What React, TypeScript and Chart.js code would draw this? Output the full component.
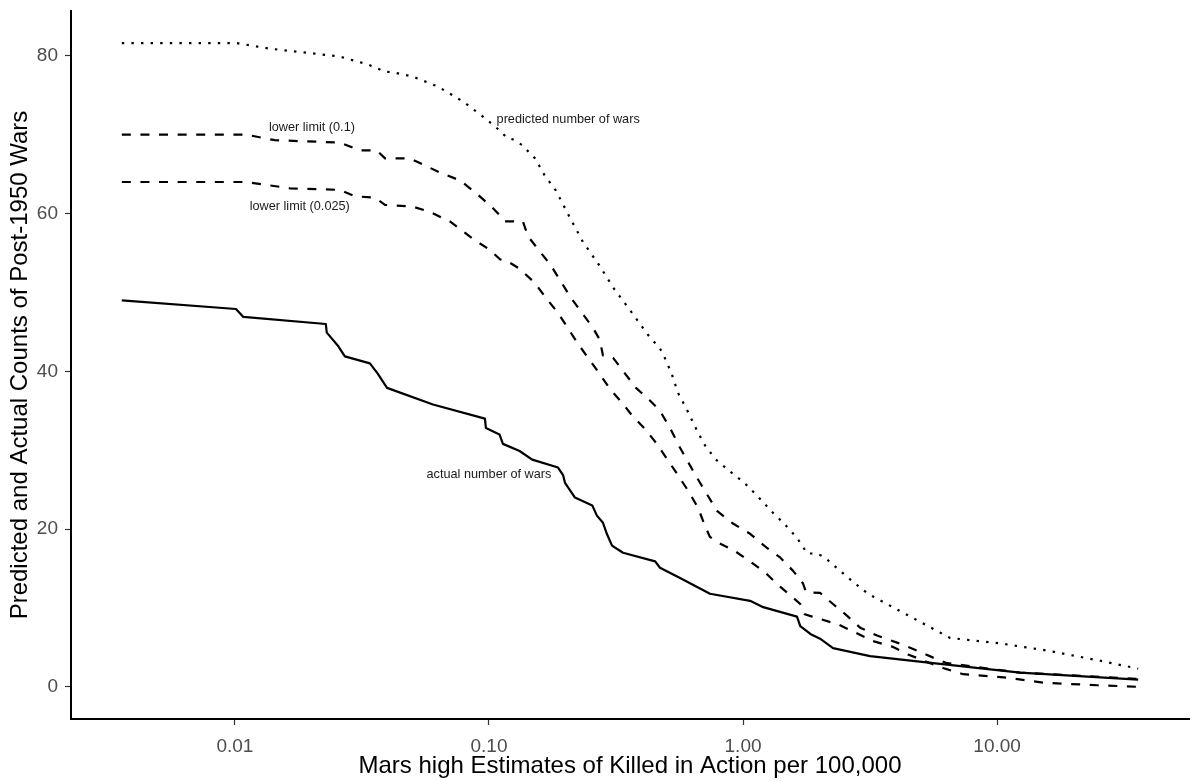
import { useEffect, useRef } from "react";
import { Chart, registerables } from "chart.js";

Chart.register(...registerables);

// Wars per threshold of battle deaths (killed in action per 100,000), log x-axis
const predictedX = [0.00359, 0.0102, 0.01374, 0.0203, 0.0259, 0.0334, 0.039, 0.0419, 0.0498, 0.063, 0.0791, 0.0982, 0.1105, 0.1177, 0.1242, 0.1348, 0.1517, 0.166, 0.1835, 0.2065, 0.2344, 0.271, 0.31, 0.362, 0.423, 0.471, 0.489, 0.525, 0.554, 0.602, 0.647, 0.702, 0.776, 0.881, 1.009, 1.146, 1.289, 1.45, 1.63, 1.79, 1.94, 2.08, 2.39, 2.71, 3.1, 4.15, 6.53, 10.3, 15.7, 25.5, 35.9];
const predictedY = [81.6, 81.6, 80.9, 80.3, 79.9, 78.9, 78.0, 77.9, 77.4, 76.1, 74.2, 71.9, 70.5, 69.6, 69.4, 68.7, 67.0, 64.8, 62.9, 59.7, 56.4, 53.5, 50.5, 47.6, 44.6, 42.9, 41.9, 39.6, 37.3, 35.1, 33.0, 30.8, 28.9, 27.4, 25.9, 24.1, 22.3, 20.7, 18.9, 16.9, 16.9, 16.5, 14.8, 13.3, 11.8, 9.6, 6.2, 5.5, 4.6, 3.3, 2.3];

const limit10X = [0.00359, 0.0111, 0.01436, 0.0259, 0.0311, 0.0362, 0.039, 0.0489, 0.0641, 0.0769, 0.0897, 0.1028, 0.1125, 0.1157, 0.136, 0.1425, 0.1755, 0.2103, 0.2567, 0.273, 0.281, 0.308, 0.379, 0.43, 0.471, 0.516, 0.565, 0.659, 0.79, 0.913, 1.066, 1.243, 1.399, 1.574, 1.722, 1.77, 2.01, 2.26, 2.57, 2.89, 3.37, 4.04, 4.67, 5.6, 6.35, 12.3, 35.9];
const limit10Y = [70, 70, 69.3, 69.0, 68.0, 68.0, 67.0, 67.0, 65.2, 64.2, 62.5, 60.8, 59.5, 59.0, 59.0, 57.1, 53.4, 49.3, 45.5, 44.0, 42.0, 41.7, 37.9, 36.3, 35.0, 32.8, 30.3, 26.5, 22.3, 20.7, 19.4, 17.6, 16.4, 14.7, 13.1, 12.0, 11.9, 10.5, 9.0, 7.5, 6.5, 5.6, 4.8, 3.7, 3.0, 1.8, 1.0];

const limit025X = [0.00359, 0.0111, 0.0165, 0.0259, 0.0297, 0.0356, 0.039, 0.0498, 0.0586, 0.0702, 0.0881, 0.1009, 0.1105, 0.1177, 0.132, 0.1517, 0.1677, 0.187, 0.224, 0.271, 0.299, 0.334, 0.366, 0.411, 0.458, 0.502, 0.55, 0.607, 0.665, 0.708, 0.741, 0.797, 0.93, 1.066, 1.22, 1.399, 1.574, 1.68, 1.75, 1.87, 2.37, 2.76, 3.25, 3.86, 4.46, 5.45, 6.24, 7.35, 10.6, 15.5, 24.8, 35.9];
const limit025Y = [64, 64, 63.2, 63.0, 62.2, 62.0, 61.1, 60.9, 60.2, 59.0, 56.6, 55.4, 54.2, 54.0, 53.0, 51.2, 49.3, 47.4, 43.5, 39.8, 37.8, 36.0, 34.4, 32.7, 30.8, 28.9, 27.0, 24.9, 22.7, 20.4, 19.0, 18.3, 17.2, 15.9, 14.5, 12.7, 11.3, 10.5, 9.2, 8.9, 7.9, 6.9, 5.8, 5.1, 4.1, 3.0, 2.3, 1.6, 1.2, 0.5, 0.2, 0];

const actualX = [0.00359, 0.0101, 0.0108, 0.0228, 0.023, 0.0255, 0.0271, 0.034, 0.0365, 0.0397, 0.0602, 0.0964, 0.0973, 0.11, 0.1135, 0.132, 0.148, 0.187, 0.196, 0.199, 0.218, 0.255, 0.266, 0.281, 0.291, 0.305, 0.337, 0.451, 0.471, 0.565, 0.741, 1.066, 1.2, 1.63, 1.68, 1.84, 2.01, 2.26, 3.16, 5.6, 12.3, 35.9];
const actualY = [49.0, 47.9, 46.9, 46.0, 44.9, 43.2, 41.9, 41.0, 39.7, 37.9, 35.8, 34.0, 32.8, 32.0, 30.8, 29.9, 28.8, 27.8, 26.8, 25.9, 24.0, 23.0, 21.7, 20.8, 19.4, 17.9, 17.0, 15.9, 15.1, 13.8, 11.8, 10.9, 10.1, 8.9, 7.7, 6.7, 6.1, 4.9, 3.9, 3.0, 1.8, 0.9];

const xTicks = [0.01, 0.1, 1, 10];
const yTicks = [0, 20, 40, 60, 80];

const curveLabels = ["predicted number of wars", "lower limit (0.1)", "lower limit (0.025)", "actual number of wars"];
const curveLabelX = [0.205, 0.0201, 0.018, 0.1];
const curveLabelY = [71.9, 70.9, 60.9, 26.9];

const FONT = "'Liberation Sans', Arial, Helvetica, sans-serif";

const zip = (xs: number[], ys: number[]) => xs.map((x, i) => ({ x, y: ys[i] }));

const curveLabelPlugin = {
  id: "curveLabels",
  afterDatasetsDraw(chart: any) {
    const { ctx, scales } = chart;
    ctx.save();
    ctx.font = `12.7px ${FONT}`;
    ctx.fillStyle = "#1a1a1a";
    ctx.textAlign = "center";
    ctx.textBaseline = "middle";
    curveLabels.forEach((t, i) => {
      ctx.fillText(t, scales.x.getPixelForValue(curveLabelX[i]), scales.y.getPixelForValue(curveLabelY[i]));
    });
    ctx.restore();
  },
};

export default function App() {
  const canvasRef = useRef<HTMLCanvasElement | null>(null);

  useEffect(() => {
    if (!canvasRef.current) return;
    const common = {
      borderColor: "#000000",
      borderWidth: 2.2,
      pointRadius: 0,
      pointHoverRadius: 0,
      tension: 0,
      fill: false,
      borderJoinStyle: "round" as const,
      borderCapStyle: "butt" as const,
    };
    const chart = new Chart(canvasRef.current, {
      type: "line",
      data: {
        datasets: [
          { ...common, label: "predicted number of wars", data: zip(predictedX, predictedY), borderDash: [2.4, 7.2] },
          { ...common, label: "lower limit (0.1)", data: zip(limit10X, limit10Y), borderDash: [9, 9.6] },
          { ...common, label: "lower limit (0.025)", data: zip(limit025X, limit025Y), borderDash: [9, 9.6] },
          { ...common, label: "actual number of wars", data: zip(actualX, actualY) },
        ],
      },
      options: {
        animation: false,
        responsive: false,
        maintainAspectRatio: false,
        devicePixelRatio: 1,
        layout: { padding: { top: 11, right: 3, left: 0, bottom: 0 } },
        plugins: { legend: { display: false }, tooltip: { enabled: false } },
        events: [],
        scales: {
          x: {
            type: "logarithmic",
            min: 0.002265,
            max: 56.9,
            afterBuildTicks: (axis: any) => {
              axis.ticks = xTicks.map((v) => ({ value: v }));
            },
            afterFit: (axis: any) => {
              axis.height = 62;
              axis.paddingLeft = 0;
              axis.paddingRight = 0;
            },
            ticks: {
              autoSkip: false,
              maxRotation: 0,
              color: "#4d4d4d",
              padding: 10,
              font: { family: FONT, size: 19 },
              callback: (v: any) => Number(v).toFixed(2),
            },
            grid: { drawOnChartArea: false, drawTicks: true, tickLength: 6, tickColor: "#333333", tickWidth: 1.2 },
            border: { display: true, color: "#000000", width: 2 },
            title: {
              display: true,
              text: "Mars high Estimates of Killed in Action per 100,000",
              color: "#000000",
              font: { family: FONT, size: 24 },
              padding: { top: 0, bottom: 0.5 },
            },
          },
          y: {
            type: "linear",
            min: -4.08,
            max: 85.68,
            afterBuildTicks: (axis: any) => {
              axis.ticks = yTicks.map((v) => ({ value: v }));
            },
            afterFit: (axis: any) => {
              axis.width = 71;
              axis.paddingTop = 0;
              axis.paddingBottom = 0;
            },
            ticks: {
              autoSkip: false,
              color: "#4d4d4d",
              padding: 7,
              font: { family: FONT, size: 19 },
            },
            grid: { drawOnChartArea: false, drawTicks: true, tickLength: 6, tickColor: "#333333", tickWidth: 1.2 },
            border: { display: true, color: "#000000", width: 2 },
            title: {
              display: true,
              text: "Predicted and Actual Counts of Post-1950 Wars",
              color: "#000000",
              font: { family: FONT, size: 24 },
              padding: { top: 5.5, bottom: 0 },
            },
          },
        },
      },
      plugins: [curveLabelPlugin],
    });
    return () => chart.destroy();
  }, []);

  return (
    <div style={{ position: "absolute", left: 0, top: 0, width: 1192, height: 781, background: "#ffffff" }}>
      <canvas ref={canvasRef} width={1192} height={781} style={{ display: "block", width: 1192, height: 781 }} />
    </div>
  );
}
